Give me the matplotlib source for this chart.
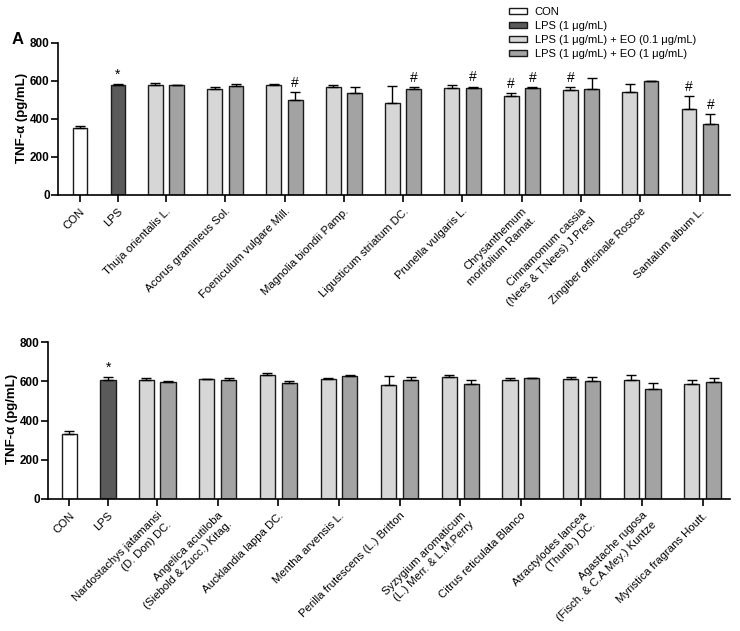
import matplotlib
matplotlib.use("Agg")
import matplotlib.pyplot as plt
from matplotlib.patches import Patch
import numpy as np

plt.rcParams['font.family'] = ['Liberation Sans', 'DejaVu Sans']

# ---- panel 1 data ----
top_labels = ["CON", "LPS", "Thuja orientalis L.", "Acorus gramineus Sol.",
              "Foeniculum vulgare Mill.", "Magnolia biondii Pamp.",
              "Ligusticum striatum DC.", "Prunella vulgaris L.",
              "Chrysanthemum\nmorifolium Ramat.",
              "Cinnamomum cassia\n(Nees & T.Nees) J.Presl",
              "Zingiber officinale Roscoe", "Santalum album L."]
top_con, top_con_err = 354, 10
top_lps, top_lps_err = 580, 3
top_low = [581, 560, 581, 570, 483, 564, 522, 551, 543, 453]
top_low_err = [10, 10, 5, 8, 90, 17, 12, 18, 42, 66]
top_high = [577, 574, 500, 537, 555, 562, 565, 555, 597, 371]
top_high_err = [2, 8, 40, 32, 12, 8, 3, 58, 2, 56]
top_low_mark = ["", "", "", "", "", "", "#", "#", "", "#"]
top_high_mark = ["", "", "#", "", "#", "#", "#", "", "", "#"]

# ---- panel 2 data ----
bot_labels = ["CON", "LPS", "Nardostachys jatamansi\n(D. Don) DC.",
              "Angelica acutiloba\n(Siebold & Zucc.) Kitag.",
              "Aucklandia lappa DC.", "Mentha arvensis L.",
              "Perilla frutescens (L.) Britton",
              "Syzygium aromaticum\n(L.) Merr. & L.M.Perry",
              "Citrus reticulata Blanco",
              "Atractylodes lancea\n(Thunb.) DC.",
              "Agastache rugosa\n(Fisch. & C.A.Mey.) Kuntze",
              "Myristica fragrans Houtt."]
bot_con, bot_con_err = 332, 13
bot_lps, bot_lps_err = 607, 14
bot_low = [607, 612, 631, 611, 583, 624, 609, 612, 607, 588]
bot_low_err = [10, 2, 10, 8, 44, 8, 8, 10, 27, 17]
bot_high = [597, 609, 592, 628, 609, 587, 616, 604, 561, 597]
bot_high_err = [7, 8, 10, 3, 12, 22, 3, 20, 31, 19]
bot_low_mark = [""] * 10
bot_high_mark = [""] * 10

legend_labels = ["CON", "LPS (1 \u03bcg/mL)", "LPS (1 \u03bcg/mL) + EO (0.1 \u03bcg/mL)",
                 "LPS (1 \u03bcg/mL) + EO (1 \u03bcg/mL)"]
colors = ["white", "#5a5a5a", "#d6d6d6", "#a3a3a3"]


def panel(ax, labels, con, con_err, lps, lps_err, low, low_err, high, high_err,
          low_mark, high_mark, xlim):
    w = 0.25
    off = 0.18
    x_con, x_lps = 0.0, 0.64
    xg = 1.45 + np.arange(len(low))
    kw = dict(width=w, edgecolor="#1a1a1a", linewidth=1.0,
              error_kw=dict(ecolor="black", elinewidth=1.0, capsize=3.5, capthick=1.0))
    ax.bar([x_con], [con], yerr=[[0], [con_err]], color=colors[0], **kw)
    ax.bar([x_lps], [lps], yerr=[[0], [lps_err]], color=colors[1], **kw)
    ax.bar(xg - off, low, yerr=[np.zeros(len(low)), low_err], color=colors[2], **kw)
    ax.bar(xg + off, high, yerr=[np.zeros(len(high)), high_err], color=colors[3], **kw)
    ax.text(x_lps, lps + lps_err + 12, "*", ha="center", va="bottom", fontsize=10)
    for i in range(len(low)):
        if low_mark[i]:
            ax.text(xg[i] - off, low[i] + low_err[i] + 12, low_mark[i],
                    ha="center", va="bottom", fontsize=10)
        if high_mark[i]:
            ax.text(xg[i] + off, high[i] + high_err[i] + 12, high_mark[i],
                    ha="center", va="bottom", fontsize=10)
    ax.set_xlim(*xlim)
    ax.set_ylim(0, 800)
    ax.set_yticks([0, 200, 400, 600, 800])
    ax.set_xticks([x_con, x_lps] + list(xg))
    ax.set_xticklabels(labels, rotation=45, ha="right", va="top", rotation_mode="anchor",
                       multialignment="right", linespacing=1.35, fontsize=8.2)
    for lab in ax.get_yticklabels():
        lab.set_fontweight("bold")
    ax.tick_params(axis="y", labelsize=8.5, width=1.2, length=5, pad=1)
    ax.tick_params(axis="x", width=1.2, length=5, pad=3)
    for s in ["top", "right"]:
        ax.spines[s].set_visible(False)
    for s in ["left", "bottom"]:
        ax.spines[s].set_linewidth(1.2)


fig = plt.figure(figsize=(7.4, 6.31), dpi=100)
ax1 = fig.add_axes([0.0784, 0.691, 0.908, 0.241])
ax2 = fig.add_axes([0.0649, 0.2092, 0.9216, 0.2484])

panel(ax1, top_labels, top_con, top_con_err, top_lps, top_lps_err,
      top_low, top_low_err, top_high, top_high_err, top_low_mark, top_high_mark,
      (-0.37, 10.96))
panel(ax2, bot_labels, bot_con, bot_con_err, bot_lps, bot_lps_err,
      bot_low, bot_low_err, bot_high, bot_high_err, bot_low_mark, bot_high_mark,
      (-0.35, 10.9))

ylab = "TNF-\u03b1 (pg/mL)"
fig.text(22 / 740, 1 - 118 / 631, ylab, rotation=90, ha="center", va="center",
         fontsize=9.5, fontweight="bold")
fig.text(12 / 740, 1 - 419 / 631, ylab, rotation=90, ha="center", va="center",
         fontsize=9.5, fontweight="bold")

handles = [Patch(facecolor=c, edgecolor="#1a1a1a", linewidth=1.0) for c in colors]
fig.legend(handles, legend_labels, loc="upper left", bbox_to_anchor=(509 / 740, 1 - 7 / 631),
           frameon=False, fontsize=8, handlelength=1.6, handleheight=0.5,
           handletextpad=0.7, labelspacing=0.35, borderpad=0, borderaxespad=0)

fig.text(12 / 740, 1 - 40 / 631, "A", fontsize=12, fontweight="bold", va="center", ha="left")

fig.savefig("out.png", dpi=100)
